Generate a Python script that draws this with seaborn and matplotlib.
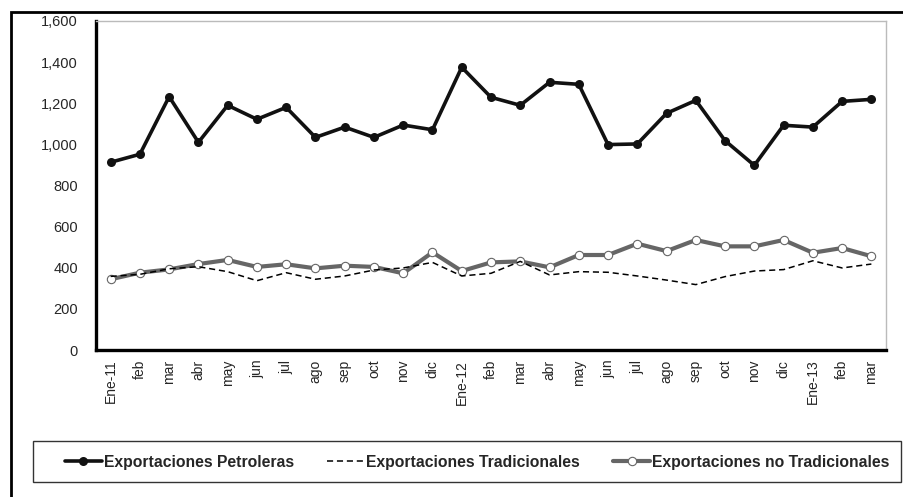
import matplotlib

matplotlib.use("Agg")

import matplotlib.pyplot as plt
import numpy as np
import pandas as pd
import seaborn as sns
from matplotlib.patches import Rectangle
from matplotlib.ticker import FuncFormatter


months = [
    "Ene-11", "feb", "mar", "abr", "may", "jun",
    "jul", "ago", "sep", "oct", "nov", "dic",
    "Ene-12", "feb", "mar", "abr", "may", "jun",
    "jul", "ago", "sep", "oct", "nov", "dic",
    "Ene-13", "feb", "mar",
]

petroleras = [
    913, 952, 1232, 1010, 1190, 1122, 1180, 1034, 1084, 1034, 1094, 1071,
    1375, 1229, 1190, 1302, 1292, 999, 1002, 1151, 1214, 1018, 898, 1093,
    1084, 1209, 1219,
]

tradicionales = [
    358, 368, 395, 405, 381, 337, 376, 344, 360, 389, 399, 426,
    360, 373, 431, 365, 381, 378, 360, 340, 318, 357, 384, 391,
    434, 399, 418,
]

no_tradicionales = [
    344, 376, 392, 418, 438, 404, 417, 397, 410, 404, 373, 475,
    384, 426, 431, 402, 462, 462, 517, 481, 535, 504, 504, 535,
    473, 496, 456,
]

labels = [
    "Exportaciones Petroleras",
    "Exportaciones Tradicionales",
    "Exportaciones no Tradicionales",
]

y_ticks = [0, 200, 400, 600, 800, 1000, 1200, 1400, 1600]


sns.set_style("white")
plt.rcParams["font.family"] = ["Liberation Sans", "DejaVu Sans"]

position = np.arange(len(months))

frame = pd.DataFrame(
    {
        "pos": position,
        "petroleras": petroleras,
        "tradicionales": tradicionales,
        "no_tradicionales": no_tradicionales,
    }
)

figure = plt.figure(figsize=(9.04, 4.97), dpi=100)

axis = figure.add_axes([96 / 904, 1 - 350 / 497, 790 / 904, 329 / 497])

sns.lineplot(
    data=frame,
    x="pos",
    y="no_tradicionales",
    color="#666666",
    linewidth=3,
    marker="o",
    markersize=6,
    markerfacecolor="white",
    markeredgecolor="#666666",
    markeredgewidth=0.8,
    label=labels[2],
    ax=axis,
    zorder=3,
)

sns.lineplot(
    data=frame,
    x="pos",
    y="tradicionales",
    color="black",
    linewidth=1.1,
    linestyle=(0, (4, 2.5)),
    label=labels[1],
    ax=axis,
    zorder=4,
)

sns.lineplot(
    data=frame,
    x="pos",
    y="petroleras",
    color="#111111",
    linewidth=2.6,
    marker="o",
    markersize=6.5,
    markeredgewidth=0,
    label=labels[0],
    ax=axis,
    zorder=5,
)

axis.set_xlim(-0.5, len(months) - 0.5)
axis.set_ylim(0, 1600)

axis.set_yticks(y_ticks)
axis.yaxis.set_major_formatter(FuncFormatter(lambda v, _: f"{int(v):,}"))

axis.set_xticks(position)
axis.set_xticklabels(months, rotation=90, fontsize=10)
axis.set_xticks([5.5, 11.5, 17.5, 23.5], minor=True)

axis.tick_params(axis="x", which="major", length=0, pad=7)
axis.tick_params(axis="x", which="minor", length=4, width=2.2, color="black", direction="out")
axis.tick_params(axis="y", length=4, width=2.2, color="black", direction="out", pad=9, labelsize=10.5)

axis.set_xlabel("")
axis.set_ylabel("")

for side in ["left", "bottom"]:
    axis.spines[side].set_color("black")
    axis.spines[side].set_linewidth(2.4)

for side in ["top", "right"]:
    axis.spines[side].set_color("#bbbbbb")
    axis.spines[side].set_linewidth(1.0)

handles, names = axis.get_legend_handles_labels()
axis.get_legend().remove()

order = [names.index(name) for name in labels]

figure.legend(
    [handles[i] for i in order],
    [names[i] for i in order],
    loc="center",
    bbox_to_anchor=(477 / 904, 1 - 462 / 497),
    ncol=3,
    frameon=False,
    handlelength=2.4,
    handletextpad=0.1,
    columnspacing=2.1,
    prop={"weight": "bold", "size": 11.3},
)

# legend box and outer frame
figure.patches.append(
    Rectangle(
        (33 / 904, 1 - 482 / 497),
        868 / 904,
        41 / 497,
        transform=figure.transFigure,
        fill=False,
        edgecolor="#333333",
        linewidth=1.0,
    )
)

figure.patches.append(
    Rectangle(
        (11 / 904, -0.05),
        1.05,
        1 - 12 / 497 + 0.05,
        transform=figure.transFigure,
        fill=False,
        edgecolor="black",
        linewidth=2.0,
        clip_on=False,
    )
)

figure.savefig("out.png", dpi=100)
plt.close(figure)
